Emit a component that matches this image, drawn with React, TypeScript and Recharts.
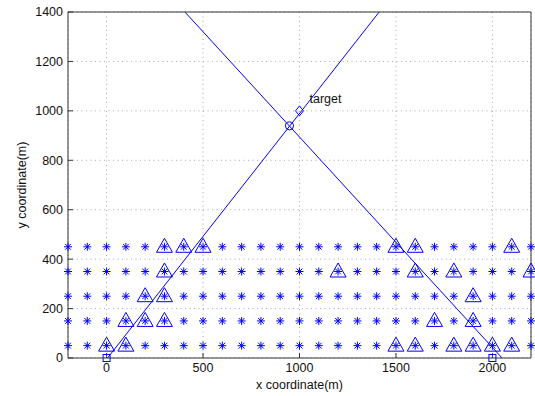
import React from 'react';
import { ScatterChart, Scatter, XAxis, YAxis, CartesianGrid, ReferenceLine } from 'recharts';

// sensor grid columns / rows
const nodeXs = [-200, -100, 0, 100, 200, 300, 400, 500, 600, 700, 800, 900, 1000, 1100, 1200, 1300, 1400, 1500, 1600, 1700, 1800, 1900, 2000, 2100, 2200];
const nodeYs = [50, 150, 250, 350, 450];

// nodes that detected the target (drawn with a triangle)
const activeNodes = [
  { x: 0, y: 50 }, { x: 100, y: 50 }, { x: 1500, y: 50 }, { x: 1600, y: 50 }, { x: 1800, y: 50 },
  { x: 1900, y: 50 }, { x: 2000, y: 50 }, { x: 2100, y: 50 },
  { x: 100, y: 150 }, { x: 200, y: 150 }, { x: 300, y: 150 }, { x: 1700, y: 150 }, { x: 1900, y: 150 },
  { x: 200, y: 250 }, { x: 300, y: 250 }, { x: 1900, y: 250 },
  { x: 300, y: 350 }, { x: 1200, y: 350 }, { x: 1600, y: 350 }, { x: 1800, y: 350 }, { x: 2200, y: 350 },
  { x: 300, y: 450 }, { x: 400, y: 450 }, { x: 500, y: 450 }, { x: 1500, y: 450 }, { x: 1600, y: 450 },
  { x: 2100, y: 450 },
];

const stations = [{ x: 0, y: 0 }, { x: 2000, y: 0 }];
const estimate = [{ x: 948, y: 939 }];
const target = [{ x: 1000, y: 1000 }];
const targetLabel = 'target';

const bearing1 = [{ x: 5, y: 0 }, { x: 1413, y: 1400 }];
const bearing2 = [{ x: 2050, y: 0 }, { x: 406, y: 1400 }];

const xTicks = [0, 500, 1000, 1500, 2000];
const yTicks = [0, 200, 400, 600, 800, 1000, 1200, 1400];

const BLUE = '#0000ff';
const AXIS = '#333';

const gridNodes = nodeYs.flatMap((y) => nodeXs.map((x) => ({ x, y })));

const StarShape = (p: any) => {
  const { cx, cy } = p;
  const r = 4;
  const d = 2.9;
  return (
    <g stroke={BLUE} strokeWidth={1}>
      <line x1={cx - r} y1={cy} x2={cx + r} y2={cy} />
      <line x1={cx} y1={cy - r} x2={cx} y2={cy + r} />
      <line x1={cx - d} y1={cy - d} x2={cx + d} y2={cy + d} />
      <line x1={cx - d} y1={cy + d} x2={cx + d} y2={cy - d} />
    </g>
  );
};

const TriangleShape = (p: any) => {
  const { cx, cy } = p;
  return (
    <path
      d={`M${cx},${cy - 8.5} L${cx + 8},${cy + 5.5} L${cx - 8},${cy + 5.5} Z`}
      fill="none"
      stroke={BLUE}
      strokeWidth={1}
    />
  );
};

const SquareShape = (p: any) => {
  const { cx, cy } = p;
  return <rect x={cx - 3.5} y={cy - 3.5} width={7} height={7} fill="none" stroke={BLUE} strokeWidth={1} />;
};

const CircleShape = (p: any) => {
  const { cx, cy } = p;
  return <circle cx={cx} cy={cy} r={4} fill="none" stroke={BLUE} strokeWidth={1} />;
};

const DiamondShape = (p: any) => {
  const { cx, cy } = p;
  return (
    <g>
      <path
        d={`M${cx},${cy - 5} L${cx + 4},${cy} L${cx},${cy + 5} L${cx - 4},${cy} Z`}
        fill="none"
        stroke={BLUE}
        strokeWidth={1}
      />
      <text x={cx + 10} y={cy - 8} fontSize={12.5} fill="#111">{targetLabel}</text>
    </g>
  );
};

const NoShape = () => <g />;

export default function App() {
  return (
    <div style={{ position: 'absolute', left: 0, top: 0, background: '#fff' }}>
      <ScatterChart
        width={535}
        height={396}
        margin={{ top: 11, right: 3, bottom: 0, left: 0 }}
        style={{ fontFamily: '"Liberation Sans", Arial, sans-serif' }}
      >
        <CartesianGrid stroke="#aaa" strokeDasharray="1 3.5" />
        <XAxis
          type="number"
          dataKey="x"
          domain={[-200, 2200]}
          ticks={xTicks}
          height={38}
          tickSize={-5}
          tickMargin={10}
          stroke={AXIS}
          tick={{ fill: '#111', fontSize: 12.5 }}
          label={{ value: 'x coordinate(m)', position: 'insideBottom', offset: 7, fill: '#111', fontSize: 12.5 }}
        />
        <YAxis
          type="number"
          dataKey="y"
          domain={[0, 1400]}
          ticks={yTicks}
          width={68}
          tickSize={-5}
          tickMargin={10}
          stroke={AXIS}
          tick={{ fill: '#111', fontSize: 12.5 }}
          label={{
            value: 'y coordinate(m)',
            angle: -90,
            position: 'insideLeft',
            offset: 22,
            fill: '#111',
            fontSize: 12.5,
            style: { textAnchor: 'middle' },
          }}
        />
        <XAxis
          xAxisId="top"
          orientation="top"
          type="number"
          dataKey="x"
          domain={[-200, 2200]}
          ticks={xTicks}
          allowDataOverflow
          height={1}
          tickSize={-5}
          tick={false}
          stroke={AXIS}
        />
        <YAxis
          yAxisId="right"
          orientation="right"
          type="number"
          dataKey="y"
          domain={[0, 1400]}
          ticks={yTicks}
          allowDataOverflow
          width={1}
          tickSize={-5}
          tick={false}
          stroke={AXIS}
        />
        <ReferenceLine segment={bearing1} stroke={BLUE} strokeWidth={1} ifOverflow="visible" />
        <ReferenceLine segment={bearing2} stroke={BLUE} strokeWidth={1} ifOverflow="visible" />
        <Scatter data={gridNodes} shape={StarShape} isAnimationActive={false} />
        <Scatter data={activeNodes} shape={TriangleShape} isAnimationActive={false} />
        <Scatter data={stations} shape={SquareShape} isAnimationActive={false} />
        <Scatter data={estimate} shape={CircleShape} isAnimationActive={false} />
        <Scatter data={target} shape={DiamondShape} isAnimationActive={false} />
        <Scatter data={target} xAxisId="top" yAxisId="right" shape={NoShape} isAnimationActive={false} />
      </ScatterChart>
    </div>
  );
}
